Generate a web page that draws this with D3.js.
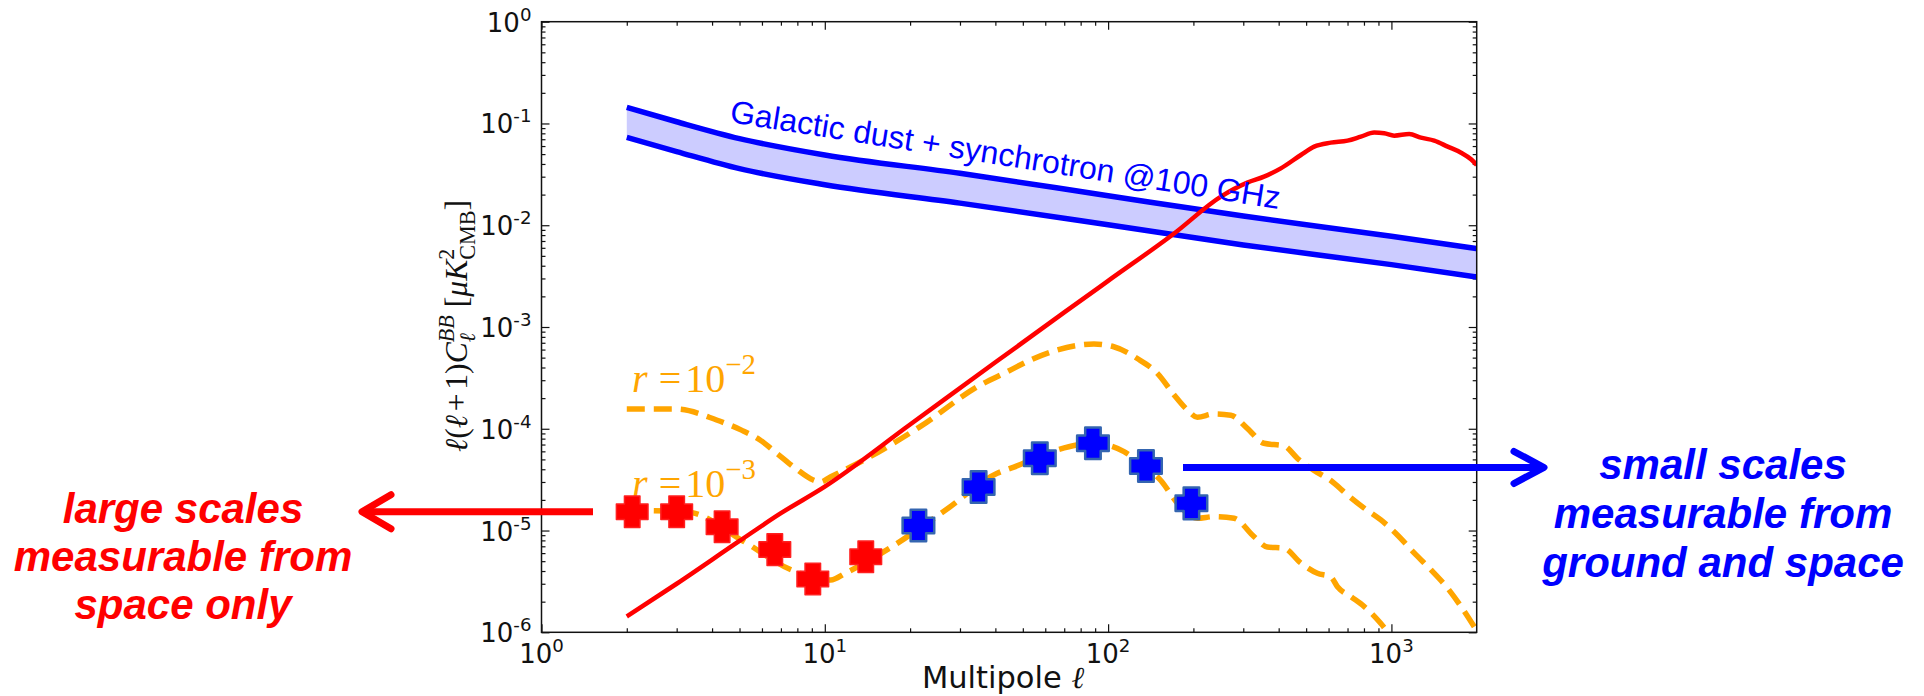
<!DOCTYPE html>
<html><head><meta charset="utf-8">
<script src="https://cdn.jsdelivr.net/npm/d3@7"></script>
<style>html,body{margin:0;padding:0;background:#fff;} svg{display:block}</style>
</head><body>
<svg id="chart" width="1924" height="696"></svg>
<script>
// ---------------- data ----------------
const xTickValues = [1, 10, 100, 1000];
const xTickExponents = ["0", "1", "2", "3"];
const yTickValues = [1e-6, 1e-5, 1e-4, 1e-3, 1e-2, 1e-1, 1];
const yTickExponents = ["-6", "-5", "-4", "-3", "-2", "-1", "0"];

// galactic foreground band (dust + synchrotron @100 GHz)
const galL      = [2, 3, 5, 10, 30, 100, 300, 1000, 2000];
const galUpper  = [0.144, 0.104, 0.071, 0.049, 0.0324, 0.0195, 0.0123, 0.0078, 0.0059];
const galLower  = [0.073, 0.053, 0.036, 0.025, 0.0165, 0.0101, 0.0064, 0.0041, 0.0031];

// lensing B-modes (red solid)
const lensL = [2, 3, 5, 7, 10, 20, 40, 70, 100, 171, 250, 310, 355, 407, 479, 534, 611, 700, 780, 869, 943, 1023, 1156, 1271, 1416, 1580, 1761, 1910, 2000];
const lensV = [1.43e-6, 3.0e-6, 7.9e-6, 1.48e-5, 2.7e-5, 1.1e-4, 4.5e-4, 1.39e-3, 2.84e-3, 8.3e-3, 0.0191, 0.0262, 0.030, 0.0362, 0.049, 0.0592, 0.0648, 0.0678, 0.0742, 0.0813, 0.0801, 0.0759, 0.0788, 0.0725, 0.0678, 0.0592, 0.0516, 0.0445, 0.0391];

// primordial tensor B-modes, r = 1e-2 (orange dashed)
const tensHiL = [2, 3, 4.15, 5.08, 5.89, 6.79, 7.87, 9.1, 9.64, 10.5, 14.06, 21.7, 35.4, 44.1, 53.2, 66.1, 89.1, 104.7, 126.8, 149.3, 171, 190.5, 206.5, 236.6, 271, 310, 354.8, 417.8, 466.7, 533.3, 611, 699.8, 801.7, 918, 1052, 1205, 1380, 1581, 1762, 1963];
const tensHiV = [1.56e-4, 1.56e-4, 1.22e-4, 9.7e-5, 7.8e-5, 5.7e-5, 4.1e-5, 3.14e-5, 3.0e-5, 3.38e-5, 5.1e-5, 1.05e-4, 2.69e-4, 3.64e-4, 4.74e-4, 5.94e-4, 6.8e-4, 6.4e-4, 4.9e-4, 3.5e-4, 2.15e-4, 1.53e-4, 1.3e-4, 1.4e-4, 1.36e-4, 1.01e-4, 7.2e-5, 6.8e-5, 5.1e-5, 3.9e-5, 3.1e-5, 2.24e-5, 1.66e-5, 1.27e-5, 9.0e-6, 6.0e-6, 4.1e-6, 2.7e-6, 1.79e-6, 1.13e-6];

// primordial tensor B-modes, r = 1e-3 (orange dashed)
const tensLoL = [2, 3, 3.4, 5.08, 7.64, 10.5, 11.8, 17.2, 26.7, 40.6, 46.5, 66.1, 89, 113.8, 130, 153.5, 175.8, 206.5, 236.6, 278.6, 327.3, 364.8, 417.8, 478.6, 548, 611, 645, 719, 802, 918, 1000];
const tensLoV = [1.57e-5, 1.55e-5, 1.5e-5, 8.07e-6, 4.09e-6, 3.27e-6, 3.8e-6, 6.9e-6, 1.59e-5, 3.65e-5, 4.2e-5, 6.2e-5, 7.2e-5, 5.96e-5, 4.6e-5, 3.1e-5, 1.85e-5, 1.32e-5, 1.37e-5, 1.32e-5, 8.7e-6, 6.9e-6, 6.7e-6, 4.8e-6, 3.8e-6, 3.5e-6, 2.8e-6, 2.24e-6, 1.79e-6, 1.22e-6, 0.9e-6];

// binned measurements
const markL = [2.09, 3.0, 4.34, 6.66, 9.07, 13.95, 21.4, 34.9, 57.4, 88.4, 136, 196.8];
const markV = [1.53e-5, 1.53e-5, 1.09e-5, 6.5e-6, 3.34e-6, 5.53e-6, 1.12e-5, 2.68e-5, 5.13e-5, 7.2e-5, 4.31e-5, 1.85e-5];
const markGroup = ["space","space","space","space","space","space","ground","ground","ground","ground","ground","ground"];

const leftText  = ["large scales", "measurable from", "space only"];
const rightText = ["small scales", "measurable from", "ground and space"];
const bandLabel = "Galactic dust + synchrotron @100 GHz";
const xLabel = "Multipole ";

// ---------------- layout ----------------
const svg = d3.select("#chart");
const X0 = 541.5, X1 = 1476.7, Y0 = 21.7, Y1 = 632.3;
const x = d3.scaleLog().domain([1, 2000]).range([X0, X1]);
const y = d3.scaleLog().domain([1e-6, 1]).range([Y1, Y0]);

const RED = "#ff0000", BLUE = "#0000ff", ORANGE = "#ffa500";

svg.append("defs").append("clipPath").attr("id", "plotclip")
  .append("rect").attr("x", X0).attr("y", Y0).attr("width", X1 - X0).attr("height", Y1 - Y0);

// minor tick values
const minorX = [], minorY = [];
[1, 10, 100, 1000].forEach(d => { for (let k = 2; k <= 9; k++) if (k * d < 2000) minorX.push(k * d); });
[1e-6, 1e-5, 1e-4, 1e-3, 1e-2, 1e-1].forEach(d => { for (let k = 2; k <= 9; k++) minorY.push(k * d); });

function styleAxis(g) {
  g.select(".domain").remove();
  g.selectAll(".tick line").attr("stroke", "#111").attr("stroke-width", 1.2);
}
const axes = svg.append("g");
axes.append("g").attr("transform", `translate(0,${Y1})`).call(d3.axisBottom(x).tickValues(xTickValues).tickSize(-8).tickFormat("")).call(styleAxis);
axes.append("g").attr("transform", `translate(0,${Y1})`).call(d3.axisBottom(x).tickValues(minorX).tickSize(-4).tickFormat("")).call(styleAxis);
axes.append("g").attr("transform", `translate(0,${Y0})`).call(d3.axisTop(x).tickValues(xTickValues).tickSize(-8).tickFormat("")).call(styleAxis);
axes.append("g").attr("transform", `translate(0,${Y0})`).call(d3.axisTop(x).tickValues(minorX).tickSize(-4).tickFormat("")).call(styleAxis);
axes.append("g").attr("transform", `translate(${X0},0)`).call(d3.axisLeft(y).tickValues(yTickValues).tickSize(-8).tickFormat("")).call(styleAxis);
axes.append("g").attr("transform", `translate(${X0},0)`).call(d3.axisLeft(y).tickValues(minorY).tickSize(-4).tickFormat("")).call(styleAxis);
axes.append("g").attr("transform", `translate(${X1},0)`).call(d3.axisRight(y).tickValues(yTickValues).tickSize(-8).tickFormat("")).call(styleAxis);
axes.append("g").attr("transform", `translate(${X1},0)`).call(d3.axisRight(y).tickValues(minorY).tickSize(-4).tickFormat("")).call(styleAxis);

// tick labels
const TF = "DejaVu Sans", TS = 26;
xTickValues.forEach((v, i) => {
  const t = svg.append("text").attr("x", x(v)).attr("y", Y1 + 31).attr("text-anchor", "middle")
    .attr("font-family", TF).attr("font-size", TS).attr("fill", "#111");
  t.append("tspan").text("10");
  t.append("tspan").attr("dy", -11).attr("font-size", TS * 0.7).text(xTickExponents[i]);
});
yTickValues.forEach((v, i) => {
  const t = svg.append("text").attr("x", X0 - 10).attr("y", y(v) + 10).attr("text-anchor", "end")
    .attr("font-family", TF).attr("font-size", TS).attr("fill", "#111");
  t.append("tspan").text("10");
  t.append("tspan").attr("dy", -11).attr("font-size", TS * 0.7).text(yTickExponents[i]);
});

// x label
const xl = svg.append("text").attr("x", 1003).attr("y", 688).attr("text-anchor", "middle")
  .attr("font-family", TF).attr("font-size", 30.5).attr("fill", "#111");
xl.append("tspan").text(xLabel);
xl.append("tspan").attr("font-family", "Liberation Serif").attr("font-style", "italic").text("ℓ");

// math text helper
function mathRun(parent, pieces, base, family, color) {
  let cx = 0, prevStart = 0;
  pieces.forEach(p => {
    if (p.gap !== undefined) { cx += p.gap * base; return; }
    const size = base * (p.scale || 1);
    const start = p.stack ? prevStart : cx;
    const t = parent.append("text").attr("x", start).attr("y", -(p.rise || 0) * base)
      .attr("font-family", family).attr("font-size", size)
      .attr("font-style", p.it ? "italic" : "normal").attr("fill", color).text(p.t);
    const w = t.node().getComputedTextLength();
    prevStart = start;
    cx = Math.max(cx, start + w);
  });
  return cx;
}

// y label (rotated)
const ylg = svg.append("g").attr("transform", "translate(467,452) rotate(-90)");
const yli = ylg.append("g");
const ylW = mathRun(yli, [
  {t: "ℓ", it: true}, {t: "("}, {t: "ℓ", it: true}, {gap: 0.12}, {t: "+"}, {gap: 0.12}, {t: "1)"},
  {t: "C", it: true}, {t: "BB", it: true, scale: 0.7, rise: 0.42}, {t: "ℓ", it: true, scale: 0.7, rise: -0.25, stack: true},
  {gap: 0.25}, {t: "["}, {t: "μK", it: true}, {t: "2", scale: 0.7, rise: 0.42}, {t: "CMB", scale: 0.7, rise: -0.25, stack: true}, {t: "]"}
], 30, "Liberation Serif", "#111");
yli.attr("transform", `scale(${252 / ylW})`);

// plot content
const plot = svg.append("g").attr("clip-path", "url(#plotclip)");

const band = galL.map((l, i) => ({l, lo: galLower[i], hi: galUpper[i]}));
plot.append("path").datum(band)
  .attr("d", d3.area().curve(d3.curveMonotoneX).x(d => x(d.l)).y0(d => y(d.lo)).y1(d => y(d.hi)))
  .attr("fill", "#ccccff").attr("stroke", "none");
const lineGen = d3.line().curve(d3.curveMonotoneX).x(d => x(d[0])).y(d => y(d[1]));
plot.append("path").datum(band.map(d => [d.l, d.hi])).attr("d", lineGen)
  .attr("fill", "none").attr("stroke", BLUE).attr("stroke-width", 5.5);
plot.append("path").datum(band.map(d => [d.l, d.lo])).attr("d", lineGen)
  .attr("fill", "none").attr("stroke", BLUE).attr("stroke-width", 5.5);

plot.append("path").datum(tensHiL.map((l, i) => [l, tensHiV[i]])).attr("d", lineGen)
  .attr("fill", "none").attr("stroke", ORANGE).attr("stroke-width", 5.5).attr("stroke-dasharray", "18,9");
plot.append("path").datum(tensLoL.map((l, i) => [l, tensLoV[i]])).attr("d", lineGen)
  .attr("fill", "none").attr("stroke", ORANGE).attr("stroke-width", 5.5).attr("stroke-dasharray", "18,9");

plot.append("path").datum(lensL.map((l, i) => [l, lensV[i]])).attr("d", lineGen)
  .attr("fill", "none").attr("stroke", RED).attr("stroke-width", 4.5);

// frame
svg.append("rect").attr("x", X0).attr("y", Y0).attr("width", X1 - X0).attr("height", Y1 - Y0)
  .attr("fill", "none").attr("stroke", "#111").attr("stroke-width", 1.5);

// band label
svg.append("text").attr("transform", "translate(729,122) rotate(9)")
  .attr("font-family", "Liberation Sans, Arial, sans-serif").attr("font-size", 32).attr("fill", BLUE)
  .text(bandLabel);

// r labels
function rLabel(ty, expo) {
  const g = svg.append("g").attr("transform", `translate(632,${ty})`);
  const inner = g.append("g");
  const w = mathRun(inner, [{t: "r", it: true}, {gap: 0.28}, {t: "="}, {gap: 0.1}, {t: "10"}, {t: expo, scale: 0.72, rise: 0.45}], 33, "Liberation Serif", ORANGE);
  inner.attr("transform", `scale(${124 / w})`);
}
rLabel(391.7, "−2");
rLabel(496.7, "−3");

// markers
const plusType = {
  draw(ctx, size) {
    const s = Math.sqrt(size) / 2, a = s * 0.49;
    ctx.moveTo(-a, -s); ctx.lineTo(a, -s); ctx.lineTo(a, -a); ctx.lineTo(s, -a); ctx.lineTo(s, a);
    ctx.lineTo(a, a); ctx.lineTo(a, s); ctx.lineTo(-a, s); ctx.lineTo(-a, a); ctx.lineTo(-s, a);
    ctx.lineTo(-s, -a); ctx.lineTo(-a, -a); ctx.closePath();
  }
};
svg.append("g").selectAll("path").data(markL.map((l, i) => ({l, v: markV[i], g: markGroup[i]})))
  .join("path")
  .attr("transform", d => `translate(${x(d.l)},${y(d.v)})`)
  .attr("d", d3.symbol().type(plusType).size(1000))
  .attr("fill", d => d.g === "space" ? RED : BLUE)
  .attr("stroke", d => d.g === "space" ? "#ff2020" : "#3465b0")
  .attr("stroke-width", d => d.g === "space" ? 1.5 : 2.5)
  .attr("stroke-linejoin", "round");

// arrows
const arrows = svg.append("g").attr("fill", "none").attr("stroke-linecap", "round").attr("stroke-linejoin", "round").attr("stroke-width", 7);
const redY = y(markV[0]), blueY = y(markV[10]) + 1.5;
arrows.append("line").attr("x1", 363).attr("x2", 593).attr("y1", redY).attr("y2", redY).attr("stroke", RED).attr("stroke-linecap", "butt");
arrows.append("path").attr("d", `M391,${redY - 17}L362,${redY}L391,${redY + 17}`).attr("stroke", RED);
arrows.append("line").attr("x1", 1183).attr("x2", 1542).attr("y1", blueY).attr("y2", blueY).attr("stroke", BLUE).attr("stroke-linecap", "butt");
arrows.append("path").attr("d", `M1514,${blueY - 16}L1544,${blueY}L1514,${blueY + 16}`).attr("stroke", BLUE);

// side notes
const noteFont = "Liberation Sans, Arial, sans-serif";
leftText.forEach((t, i) => svg.append("text").attr("x", 183).attr("y", 522.7 + i * 48)
  .attr("text-anchor", "middle").attr("font-family", noteFont).attr("font-weight", "bold").attr("font-style", "italic")
  .attr("font-size", 42).attr("fill", RED).text(t));
rightText.forEach((t, i) => svg.append("text").attr("x", 1723).attr("y", 478.5 + i * 49)
  .attr("text-anchor", "middle").attr("font-family", noteFont).attr("font-weight", "bold").attr("font-style", "italic")
  .attr("font-size", 42).attr("fill", BLUE).text(t));
</script>
</body></html>
